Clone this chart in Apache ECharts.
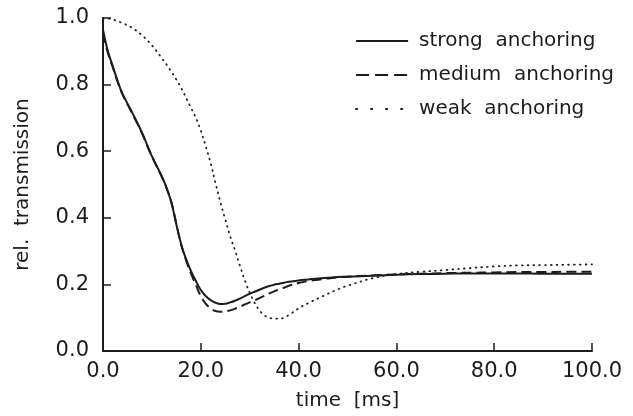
<!DOCTYPE html>
<html>
<head>
<meta charset="utf-8">
<title>rel. transmission vs time</title>
<script src="https://cdn.jsdelivr.net/npm/echarts@6/dist/echarts.min.js"></script>
<style>
  html, body { margin: 0; padding: 0; background: #ffffff; }
  #chart { width: 633px; height: 416px; }
</style>
</head>
<body>
<div id="chart"></div>
<script>
// Sample times in ms
const time = [0, 1, 2, 3, 4, 6, 8, 10, 12, 13, 14, 15, 16, 17, 18, 19, 20, 21, 22, 23, 24, 25, 26, 27, 28, 29, 30, 31, 32, 33, 34, 35, 36, 37, 38, 40, 42, 44, 46, 48, 50, 55, 60, 65, 70, 75, 80, 85, 90, 95, 100];

// Relative transmission for the three anchoring strengths
const strong = [0.965, 0.900, 0.855, 0.810, 0.772, 0.715, 0.655, 0.585, 0.525, 0.490, 0.445, 0.380, 0.320, 0.275, 0.240, 0.210, 0.183, 0.165, 0.153, 0.145, 0.141, 0.142, 0.146, 0.151, 0.157, 0.165, 0.172, 0.178, 0.184, 0.190, 0.195, 0.199, 0.202, 0.205, 0.208, 0.212, 0.215, 0.218, 0.220, 0.222, 0.223, 0.226, 0.229, 0.231, 0.232, 0.233, 0.233, 0.233, 0.232, 0.232, 0.232];
const medium = [0.955, 0.895, 0.852, 0.808, 0.770, 0.713, 0.653, 0.584, 0.524, 0.489, 0.446, 0.382, 0.318, 0.272, 0.232, 0.198, 0.165, 0.142, 0.128, 0.120, 0.118, 0.119, 0.122, 0.127, 0.133, 0.140, 0.146, 0.152, 0.159, 0.166, 0.173, 0.179, 0.185, 0.190, 0.196, 0.204, 0.210, 0.214, 0.218, 0.221, 0.223, 0.227, 0.230, 0.232, 0.234, 0.235, 0.236, 0.237, 0.237, 0.238, 0.238];
const weak = [0.998, 0.998, 0.995, 0.990, 0.985, 0.970, 0.948, 0.918, 0.880, 0.860, 0.838, 0.815, 0.790, 0.760, 0.730, 0.700, 0.662, 0.615, 0.565, 0.505, 0.447, 0.395, 0.345, 0.302, 0.256, 0.212, 0.175, 0.145, 0.122, 0.107, 0.100, 0.097, 0.097, 0.100, 0.108, 0.128, 0.144, 0.158, 0.172, 0.185, 0.196, 0.218, 0.231, 0.238, 0.243, 0.249, 0.254, 0.257, 0.258, 0.259, 0.260];

const seriesNames = ['strong  anchoring', 'medium  anchoring', 'weak  anchoring'];
const xTicks = { min: 0, max: 100, step: 20 };
const yTicks = { min: 0, max: 1, step: 0.2 };

const ink = '#1c1c1c';
const font = 'DejaVu Sans';

function pairs(ys) {
  return time.map((t, i) => [t, ys[i]]);
}

// legend keys show only the line pattern, no marker
const hiddenMarker = { opacity: 0, color: 'transparent', borderWidth: 0 };

const chart = echarts.init(document.getElementById('chart'), null, { renderer: 'canvas' });

chart.setOption({
  animation: false,
  backgroundColor: '#ffffff',
  grid: { left: 103, right: 41, top: 18, bottom: 61, containLabel: false },
  legend: {
    orient: 'vertical',
    left: 350,
    top: 26,
    itemWidth: 52,
    itemHeight: 14,
    itemGap: 14,
    textStyle: { fontFamily: font, fontSize: 20, color: ink, padding: [0, 0, 0, 6] },
    data: [
      { name: seriesNames[0], itemStyle: hiddenMarker, lineStyle: { type: 'solid', width: 2, color: ink } },
      { name: seriesNames[1], itemStyle: hiddenMarker, lineStyle: { type: [13, 6], width: 2, color: ink } },
      { name: seriesNames[2], itemStyle: hiddenMarker, lineStyle: { type: [1, 14], width: 2.2, color: ink, cap: 'round' } }
    ]
  },
  xAxis: {
    type: 'value',
    min: xTicks.min,
    max: xTicks.max,
    interval: xTicks.step,
    name: 'time  [ms]',
    nameLocation: 'middle',
    nameGap: 40,
    nameTextStyle: { fontFamily: font, fontSize: 20, color: ink },
    axisLine: { show: true, lineStyle: { color: ink, width: 2 } },
    axisTick: { show: true, inside: true, length: 8, lineStyle: { color: ink, width: 1.5 } },
    axisLabel: {
      fontFamily: font, fontSize: 21, color: ink, margin: 10,
      formatter: v => v.toFixed(1)
    },
    splitLine: { show: false }
  },
  yAxis: {
    type: 'value',
    min: yTicks.min,
    max: yTicks.max,
    interval: yTicks.step,
    name: 'rel.  transmission',
    nameLocation: 'middle',
    nameGap: 70,
    nameTextStyle: { fontFamily: font, fontSize: 20, color: ink },
    axisLine: { show: true, lineStyle: { color: ink, width: 2 } },
    axisTick: { show: true, inside: true, length: 8, lineStyle: { color: ink, width: 1.5 } },
    axisLabel: {
      fontFamily: font, fontSize: 21, color: ink, margin: 14,
      formatter: v => v.toFixed(1)
    },
    splitLine: { show: false }
  },
  series: [
    {
      name: seriesNames[0], type: 'line', data: pairs(strong),
      symbol: 'none', smooth: 0.35,
      lineStyle: { color: ink, width: 2, type: 'solid' },
      itemStyle: { color: ink }
    },
    {
      name: seriesNames[1], type: 'line', data: pairs(medium),
      symbol: 'none', smooth: 0.35,
      lineStyle: { color: ink, width: 2, type: [10, 5] },
      itemStyle: { color: ink }
    },
    {
      name: seriesNames[2], type: 'line', data: pairs(weak),
      symbol: 'none', smooth: 0.35,
      lineStyle: { color: '#222222', width: 1.8, type: [0.8, 5], cap: 'round' },
      itemStyle: { color: ink }
    }
  ]
});
</script>
</body>
</html>
